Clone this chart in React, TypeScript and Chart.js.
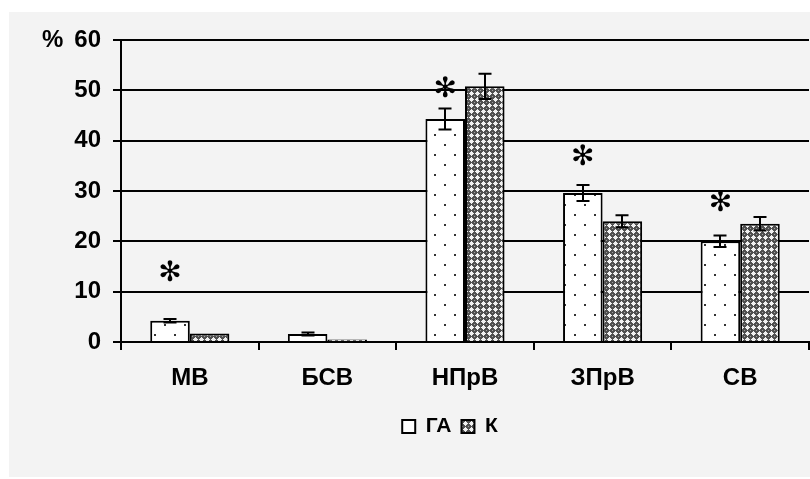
import React, { useEffect, useRef } from 'react';
import { Chart, registerables } from 'chart.js';

Chart.register(...registerables);

const categories = ['МВ', 'БСВ', 'НПрВ', 'ЗПрВ', 'СВ'];
const seriesNames = ['ГА', 'К'];
const gaValues = [4.2, 1.6, 44.3, 29.6, 20.0];
const kValues = [1.7, 0.5, 50.8, 24.0, 23.5];
const gaErrors = [0.35, 0.3, 2.1, 1.6, 1.15];
const kErrors = [0, 0, 2.5, 1.2, 1.35];
const asteriskValues: (number | null)[] = [13.6, null, 50.1, 36.6, 27.4];
const yMin = 0;
const yMax = 60;
const yStep = 10;
const yUnit = '%';

const FONT = "'Liberation Sans', Arial, sans-serif";

function makeDotPattern(): CanvasPattern | string {
  const c = document.createElement('canvas');
  c.width = 20;
  c.height = 20;
  const x = c.getContext('2d');
  if (!x) return '#ffffff';
  x.fillStyle = '#ffffff';
  x.fillRect(0, 0, 20, 20);
  x.fillStyle = '#333333';
  x.fillRect(4, 4, 2, 2);
  x.fillRect(14, 14, 2, 2);
  const p = x.createPattern(c, 'repeat');
  return p || '#ffffff';
}

function makeHatchPattern(): CanvasPattern | string {
  const c = document.createElement('canvas');
  c.width = 6;
  c.height = 6;
  const x = c.getContext('2d');
  if (!x) return '#888888';
  x.fillStyle = '#505050';
  x.fillRect(0, 0, 6, 6);
  x.fillStyle = '#f0f0f0';
  const white = [
    [3, 1], [2, 2], [3, 2], [4, 2], [1, 3], [2, 3], [3, 3], [4, 3], [5, 3], [2, 4], [3, 4], [4, 4], [3, 5],
  ];
  white.forEach(([px, py]) => x.fillRect(px, py, 1, 1));
  x.fillStyle = '#a0a0a0';
  x.fillRect(0, 0, 1, 1);
  const p = x.createPattern(c, 'repeat');
  return p || '#888888';
}

export default function App() {
  const ref = useRef<HTMLCanvasElement | null>(null);

  useEffect(() => {
    const canvas = ref.current;
    if (!canvas) return;

    const bgPlugin = {
      id: 'bgPanel',
      beforeDraw(chart: any) {
        const ctx = chart.ctx;
        ctx.save();
        ctx.fillStyle = '#ffffff';
        ctx.fillRect(0, 0, chart.width, chart.height);
        ctx.fillStyle = '#f3f3f3';
        ctx.fillRect(9, 12, chart.width - 9, 465);
        ctx.restore();
      },
    };

    const legendShift = {
      id: 'legendShift',
      afterLayout(chart: any) {
        const lg = chart.legend;
        if (!lg || !lg.lineWidths) return;
        const center = (lg.left + lg.right) / 2;
        const shift = 450 - center;
        lg.left += shift;
        lg.right += shift;
      },
    };

    const errorBars = {
      id: 'errorBars',
      afterDatasetsDraw(chart: any) {
        const ctx = chart.ctx;
        const y = chart.scales.y;
        const errs = [gaErrors, kErrors];
        const vals = [gaValues, kValues];
        ctx.save();
        ctx.strokeStyle = '#000000';
        ctx.lineWidth = 2;
        for (let d = 0; d < 2; d++) {
          const meta = chart.getDatasetMeta(d);
          meta.data.forEach((el: any, i: number) => {
            const e = errs[d][i];
            if (!e) return;
            const top = y.getPixelForValue(vals[d][i] + e);
            const bot = y.getPixelForValue(vals[d][i] - e);
            const cx = Math.round(el.x);
            ctx.beginPath();
            ctx.moveTo(cx, top);
            ctx.lineTo(cx, bot);
            ctx.moveTo(cx - 6.5, top);
            ctx.lineTo(cx + 6.5, top);
            ctx.moveTo(cx - 6.5, bot);
            ctx.lineTo(cx + 6.5, bot);
            ctx.stroke();
          });
        }
        // significance marks
        const meta0 = chart.getDatasetMeta(0);
        ctx.fillStyle = '#000000';
        ctx.font = "bold 28px 'DejaVu Sans', sans-serif";
        ctx.textAlign = 'center';
        ctx.textBaseline = 'middle';
        meta0.data.forEach((el: any, i: number) => {
          const a = asteriskValues[i];
          if (a == null) return;
          ctx.fillText('✻', el.x, y.getPixelForValue(a));
        });
        ctx.restore();
      },
      afterDraw(chart: any) {
        const ctx = chart.ctx;
        const y = chart.scales.y;
        ctx.save();
        ctx.fillStyle = '#000000';
        ctx.font = `bold 24px ${FONT}`;
        ctx.textAlign = 'left';
        ctx.textBaseline = 'middle';
        ctx.fillText(yUnit, 42, y.getPixelForValue(yMax));
        ctx.restore();
      },
    };

    const chart = new Chart(canvas, {
      type: 'bar',
      data: {
        labels: categories,
        datasets: [
          {
            label: seriesNames[0],
            data: gaValues,
            backgroundColor: makeDotPattern() as any,
            borderColor: '#000000',
            borderWidth: 2,
            borderSkipped: 'bottom',
            categoryPercentage: 0.575,
            barPercentage: 1,
          },
          {
            label: seriesNames[1],
            data: kValues,
            backgroundColor: makeHatchPattern() as any,
            borderColor: '#000000',
            borderWidth: 2,
            borderSkipped: 'bottom',
            categoryPercentage: 0.575,
            barPercentage: 1,
          },
        ],
      },
      options: {
        animation: false,
        responsive: false,
        devicePixelRatio: 1,
        layout: { padding: { top: 40, right: 1, left: 0, bottom: 32 } },
        plugins: {
          tooltip: { enabled: false },
          legend: {
            position: 'bottom',
            labels: {
              color: '#000000',
              font: { family: FONT, size: 21, weight: 'bold' },
              boxWidth: 13,
              boxHeight: 13,
              padding: 10,
              generateLabels(ch: any) {
                const items = Chart.defaults.plugins.legend.labels.generateLabels(ch);
                if (items[0]) items[0].fillStyle = '#ffffff';
                return items;
              },
            },
          },
        },
        scales: {
          x: {
            offset: true,
            afterFit(scale: any) {
              scale.height = 64;
            },
            grid: {
              offset: true,
              drawOnChartArea: false,
              drawTicks: true,
              tickLength: 8,
              color: '#000000',
              lineWidth: 2,
            },
            border: { display: true, color: '#000000', width: 2 },
            ticks: {
              color: '#000000',
              padding: 14,
              font: { family: FONT, size: 24, weight: 'bold' },
            },
          },
          y: {
            min: yMin,
            max: yMax,
            afterFit(scale: any) {
              scale.width = 121;
            },
            grid: {
              color: '#000000',
              lineWidth: 2,
              tickLength: 8,
              drawTicks: true,
            },
            border: { display: true, color: '#000000', width: 2 },
            ticks: {
              stepSize: yStep,
              color: '#000000',
              padding: 12,
              font: { family: FONT, size: 24, weight: 'bold' },
            },
          },
        },
      },
      plugins: [bgPlugin, legendShift, errorBars],
    });

    return () => chart.destroy();
  }, []);

  return (
    <div style={{ position: 'absolute', left: 0, top: 0, width: 810, height: 479, background: '#ffffff' }}>
      <canvas ref={ref} width={810} height={479} style={{ display: 'block', width: 810, height: 479 }} />
    </div>
  );
}
